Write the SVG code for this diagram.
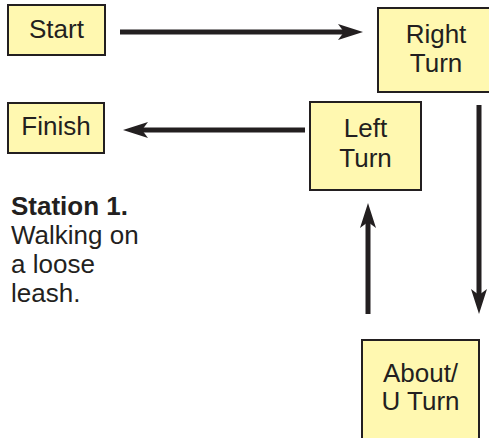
<svg xmlns="http://www.w3.org/2000/svg" width="489" height="438" viewBox="0 0 489 438">
<style>
.box{fill:#FFF8B0;stroke:#231F20;stroke-width:2}
.t{font-family:"Liberation Sans",Arial,sans-serif;font-size:26px;fill:#231F20;text-anchor:middle}
.p{font-family:"Liberation Sans",Arial,sans-serif;font-size:26px;fill:#231F20}
.c{fill:none;stroke:#231F20;stroke-width:5}
</style>
<defs>
<marker id="ah" viewBox="0 0 25 16" refX="10" refY="8" markerWidth="25" markerHeight="16" markerUnits="userSpaceOnUse" orient="auto">
<path d="M0,0 L25,8 L0,16 L6,8 Z" fill="#231F20"/>
</marker>
</defs>
<rect width="489" height="438" fill="#fff"/>
<g id="connectors">
<line class="c" x1="120" y1="32" x2="348" y2="32" marker-end="url(#ah)"/>
<line class="c" x1="305" y1="130" x2="138" y2="130" marker-end="url(#ah)"/>
<line class="c" x1="479" y1="105" x2="479" y2="299" marker-end="url(#ah)"/>
<line class="c" x1="368" y1="314" x2="368" y2="218" marker-end="url(#ah)"/>
</g>
<g id="start">
<rect class="box" x="8" y="5" width="97" height="50"/>
<text class="t" x="56.5" y="38">Start</text>
</g>
<g id="right-turn">
<rect class="box" x="378" y="8" width="116" height="84"/>
<text class="t" x="436" y="43">Right</text>
<text class="t" x="436" y="72">Turn</text>
</g>
<g id="finish">
<rect class="box" x="8" y="103" width="96" height="50"/>
<text class="t" x="56" y="135">Finish</text>
</g>
<g id="left-turn">
<rect class="box" x="310" y="102" width="111" height="88"/>
<text class="t" x="365.5" y="137">Left</text>
<text class="t" x="365.5" y="167">Turn</text>
</g>
<g id="about-turn">
<rect class="box" x="362" y="340" width="117" height="110"/>
<text class="t" x="420.5" y="382">About/</text>
<text class="t" x="420.5" y="410">U Turn</text>
</g>
<g id="caption">
<text class="p" x="11" y="215" font-weight="bold">Station 1.</text>
<text class="p" x="11" y="244">Walking on</text>
<text class="p" x="11" y="273">a loose</text>
<text class="p" x="11" y="302">leash.</text>
</g>
</svg>
